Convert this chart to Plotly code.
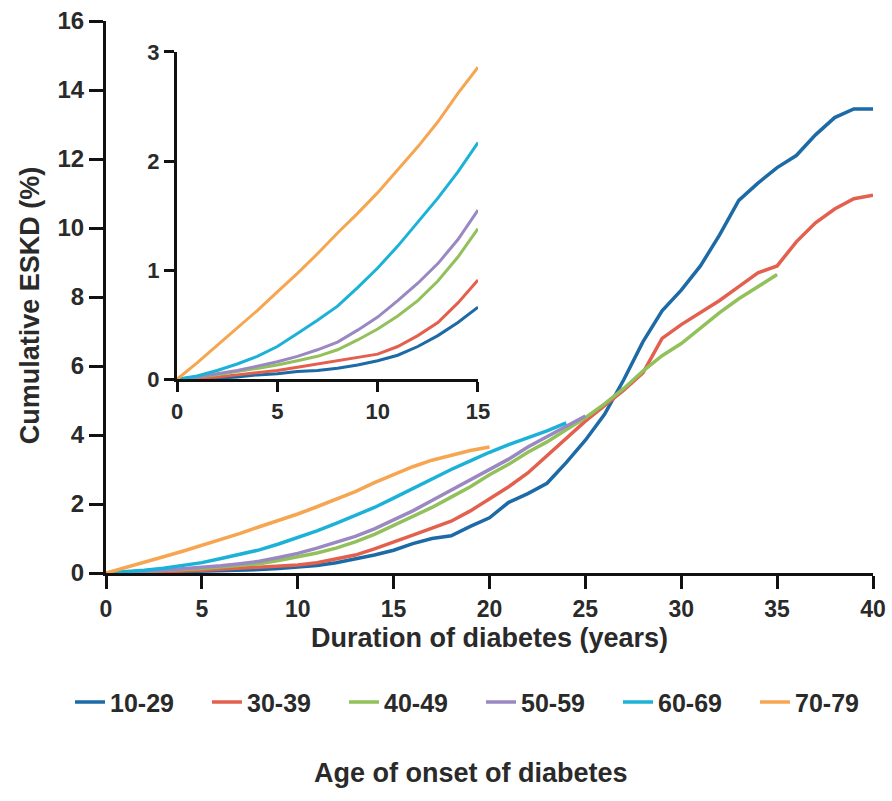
import plotly.graph_objects as go

years = list(range(0, 41))

onset_10_29 = [0, 0.0, 0.01, 0.02, 0.04, 0.05, 0.07, 0.08, 0.10, 0.13, 0.17, 0.22, 0.30, 0.40, 0.52, 0.66,
               0.85, 1.0, 1.08, 1.35, 1.6, 2.05, 2.3, 2.6, 3.2, 3.85, 4.6, 5.6, 6.7, 7.6, 8.2,
               8.9, 9.8, 10.8, 11.3, 11.75, 12.1, 12.7, 13.2, 13.45, 13.45]
onset_30_39 = [0, 0.01, 0.02, 0.04, 0.06, 0.08, 0.11, 0.14, 0.17, 0.20, 0.23, 0.30, 0.40, 0.52, 0.70, 0.91,
               1.1, 1.3, 1.5, 1.8, 2.15, 2.5, 2.9, 3.4, 3.9, 4.4, 4.85, 5.3, 5.8, 6.8, 7.2,
               7.55, 7.9, 8.3, 8.7, 8.9, 9.6, 10.15, 10.55, 10.85, 10.95]
onset_40_49 = [0, 0.02, 0.04, 0.07, 0.10, 0.13, 0.17, 0.21, 0.27, 0.36, 0.46, 0.58, 0.72, 0.90, 1.12, 1.38,
               1.62, 1.9, 2.2, 2.5, 2.85, 3.15, 3.5, 3.8, 4.15, 4.5, 4.9, 5.35, 5.85, 6.3, 6.65,
               7.1, 7.55, 7.95, 8.3, 8.65, None, None, None, None, None]
onset_50_59 = [0, 0.02, 0.05, 0.08, 0.12, 0.16, 0.21, 0.27, 0.34, 0.45, 0.57, 0.72, 0.88, 1.06, 1.28, 1.55,
               1.8, 2.1, 2.4, 2.7, 3.0, 3.3, 3.65, 3.95, 4.25, 4.55] + [None] * 15
onset_60_69 = [0, 0.03, 0.08, 0.14, 0.21, 0.30, 0.42, 0.54, 0.67, 0.84, 1.02, 1.22, 1.44, 1.66, 1.90, 2.17,
               2.45, 2.72, 3.0, 3.25, 3.5, 3.72, 3.92, 4.12, 4.35] + [None] * 16
onset_70_79 = [0, 0.15, 0.31, 0.47, 0.63, 0.80, 0.97, 1.15, 1.34, 1.52, 1.71, 1.92, 2.13, 2.36, 2.62, 2.86,
               3.08, 3.27, 3.42, 3.55, 3.65] + [None] * 20

series_names = ["10-29", "30-39", "40-49", "50-59", "60-69", "70-79"]
series_values = [onset_10_29, onset_30_39, onset_40_49, onset_50_59, onset_60_69, onset_70_79]
colors = ["#1c6aa6", "#e4604e", "#92c05a", "#9a88c2", "#1cb2d8", "#f6a651"]

main_x_ticks = [0, 5, 10, 15, 20, 25, 30, 35, 40]
main_y_ticks = [0, 2, 4, 6, 8, 10, 12, 14, 16]
inset_x_ticks = [0, 5, 10, 15]
inset_y_ticks = [0, 1, 2, 3]
inset_max_year = 15

FONT = "Liberation Sans, Arial, sans-serif"
TXT = "#2a2a2a"


def f(size):
    return dict(size=size, family=FONT, color=TXT, weight="bold")


fig = go.Figure()
for name, vals, col in zip(series_names, series_values, colors):
    fig.add_trace(go.Scatter(x=years, y=vals, mode="lines", name=name,
                             line=dict(color=col, width=3.5), xaxis="x", yaxis="y"))
for name, vals, col in zip(series_names, series_values, colors):
    xs = [x for x in years if x <= inset_max_year]
    ys = vals[:len(xs)]
    fig.add_trace(go.Scatter(x=xs, y=ys, mode="lines", name=name, showlegend=False,
                             line=dict(color=col, width=3), xaxis="x2", yaxis="y2"))

axis_common = dict(showgrid=False, zeroline=False, showline=True, linecolor="#111111",
                   linewidth=3, ticks="outside", tickcolor="#111111", tickwidth=3,
                   automargin=False)

fig.update_layout(
    width=892, height=801,
    paper_bgcolor="white", plot_bgcolor="rgba(0,0,0,0)",
    margin=dict(l=106, r=19, t=21, b=228),
    font=dict(family=FONT, color=TXT),
    xaxis=dict(domain=[0, 1], range=[0, 40], tickvals=main_x_ticks, ticklen=13,
               tickfont=f(23), anchor="y", **axis_common),
    yaxis=dict(domain=[0, 1], range=[0, 16], tickvals=main_y_ticks, ticklen=14,
               tickfont=f(24), anchor="x", **axis_common),
    xaxis2=dict(domain=[0.0926, 0.485], range=[0, 15], tickvals=inset_x_ticks, ticklen=10,
                tickfont=f(22), anchor="y2", **axis_common),
    yaxis2=dict(domain=[0.351, 0.944], range=[0, 3], tickvals=inset_y_ticks, ticklen=10,
                tickfont=f(22), anchor="x2", **axis_common),
    legend=dict(orientation="h", x=-0.039, xanchor="left",
                y=-0.234, yanchor="middle",
                font=f(25), bgcolor="rgba(0,0,0,0)", itemwidth=30,
                entrywidth=92, entrywidthmode="pixels"),
    annotations=[
        dict(text="Duration of diabetes (years)", xref="paper", yref="paper",
             x=0.5, y=-0.117, xanchor="center", yanchor="middle", showarrow=False,
             font=f(27)),
        dict(text="Cumulative ESKD (%)", xref="paper", yref="paper", textangle=-90,
             x=-0.099, y=0.485, xanchor="center", yanchor="middle", showarrow=False,
             font=f(27)),
        dict(text="Age of onset of diabetes", xref="paper", yref="paper",
             x=0.476, y=-0.363, xanchor="center", yanchor="middle", showarrow=False,
             font=f(27)),
    ],
)

fig.write_html("out.html", config={"displayModeBar": False},
               post_script="document.body.style.margin='0px';")
